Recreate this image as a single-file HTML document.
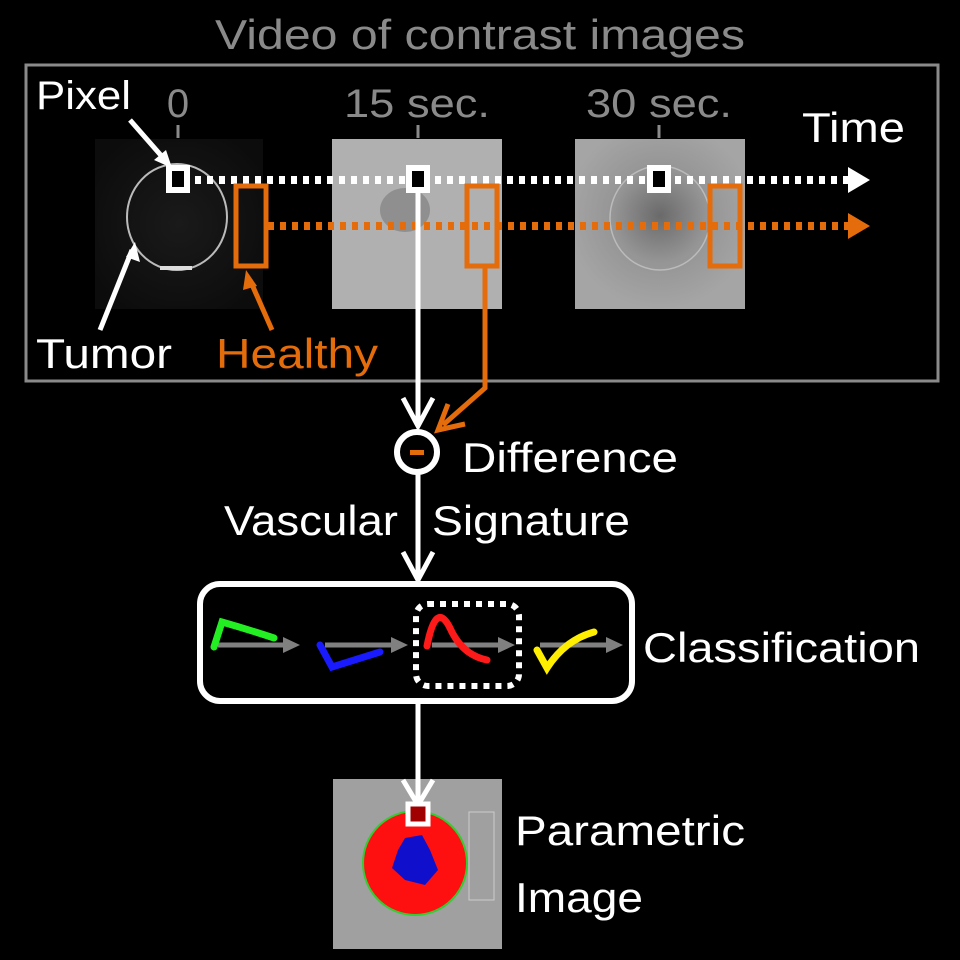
<!DOCTYPE html>
<html><head><meta charset="utf-8"><style>html,body{margin:0;padding:0;background:#000}svg{display:block}text{font-family:"Liberation Sans",sans-serif}</style></head>
<body>
<svg width="960" height="960" viewBox="0 0 960 960" xmlns="http://www.w3.org/2000/svg">
<defs>
<radialGradient id="g1" cx="50%" cy="50%" r="60%"><stop offset="0" stop-color="#1a1a1a"/><stop offset="1" stop-color="#0c0c0c"/></radialGradient>
<radialGradient id="g3" cx="50%" cy="45%" r="55%"><stop offset="0" stop-color="#6a6a6a"/><stop offset="0.5" stop-color="#959595"/><stop offset="1" stop-color="#a5a5a5"/></radialGradient>
</defs>
<text x="215" y="49" font-size="42" fill="#8a8a8a" textLength="530" lengthAdjust="spacingAndGlyphs">Video of contrast images</text>
<rect x="26" y="65" width="912" height="316" fill="none" stroke="#8a8a8a" stroke-width="3"/>
<rect x="95" y="139" width="168" height="170" fill="url(#g1)"/>
<ellipse cx="177" cy="217" rx="50" ry="53" fill="none" stroke="#bbb" stroke-width="2"/>
<rect x="160" y="266" width="32" height="4" fill="#ddd"/>
<rect x="332" y="139" width="170" height="170" fill="#b0b0b0"/>
<ellipse cx="405" cy="210" rx="25" ry="22" fill="#7a7a7a" opacity="0.6"/>
<rect x="575" y="139" width="170" height="170" fill="url(#g3)"/>
<ellipse cx="660" cy="218" rx="50" ry="52" fill="none" stroke="#bbb" stroke-width="1.5"/>
<text x="36" y="109" font-size="40" fill="#fff" textLength="95" lengthAdjust="spacingAndGlyphs">Pixel</text>
<text x="178" y="117" font-size="40" fill="#8a8a8a" text-anchor="middle">0</text>
<text x="344" y="117" font-size="40" fill="#8a8a8a" textLength="146" lengthAdjust="spacingAndGlyphs">15 sec.</text>
<text x="586" y="117" font-size="40" fill="#8a8a8a" textLength="146" lengthAdjust="spacingAndGlyphs">30 sec.</text>
<text x="802" y="142" font-size="42" fill="#fff" textLength="103" lengthAdjust="spacingAndGlyphs">Time</text>
<g stroke="#8a8a8a" stroke-width="3"><line x1="178" y1="125" x2="178" y2="138"/><line x1="418" y1="125" x2="418" y2="138"/><line x1="659" y1="125" x2="659" y2="138"/></g>
<line x1="195" y1="180" x2="848" y2="180" stroke="#fff" stroke-width="8" stroke-dasharray="6 6"/>
<polygon points="848,167 870,180 848,193" fill="#fff"/>
<line x1="268" y1="226" x2="848" y2="226" stroke="#e46c0a" stroke-width="8" stroke-dasharray="6 6"/>
<polygon points="848,213 870,226 848,239" fill="#e46c0a"/>
<g fill="#000" stroke="#fff" stroke-width="6"><rect x="169" y="168" width="18" height="22"/><rect x="409" y="168" width="18" height="22"/><rect x="650" y="168" width="18" height="22"/></g>
<g fill="none" stroke="#e46c0a" stroke-width="5"><rect x="236" y="186" width="30" height="80"/><rect x="467" y="186" width="30" height="80"/><rect x="710" y="186" width="30" height="80"/></g>
<g stroke="#fff" stroke-width="5" fill="none"><line x1="130" y1="120" x2="165" y2="160"/><line x1="100" y1="330" x2="132" y2="250"/></g>
<polygon points="172,168 154,160 166,150" fill="#fff"/>
<polygon points="135,242 140,262 126,257" fill="#fff"/>
<line x1="272" y1="330" x2="250" y2="280" stroke="#e46c0a" stroke-width="5"/>
<polygon points="246,270 257,286 243,290" fill="#e46c0a"/>
<text x="36" y="368" font-size="42" fill="#fff" textLength="136" lengthAdjust="spacingAndGlyphs">Tumor</text>
<text x="216" y="368" font-size="42" fill="#e46c0a" textLength="162" lengthAdjust="spacingAndGlyphs">Healthy</text>
<line x1="418" y1="190" x2="418" y2="426" stroke="#fff" stroke-width="5"/>
<polyline points="403,398 418,426 433,398" fill="none" stroke="#fff" stroke-width="5"/>
<polyline points="485,268 485,388 443,425" fill="none" stroke="#e46c0a" stroke-width="5"/>
<polyline points="448,404 438,430 465,424" fill="none" stroke="#e46c0a" stroke-width="5"/>
<circle cx="417" cy="452" r="20" fill="#000" stroke="#fff" stroke-width="6"/>
<rect x="410" y="450" width="14" height="5" fill="#e46c0a"/>
<text x="462" y="472" font-size="42" fill="#fff" textLength="216" lengthAdjust="spacingAndGlyphs">Difference</text>
<text x="224" y="535" font-size="42" fill="#fff" textLength="174" lengthAdjust="spacingAndGlyphs">Vascular</text>
<text x="432" y="535" font-size="42" fill="#fff" textLength="198" lengthAdjust="spacingAndGlyphs">Signature</text>
<line x1="418" y1="474" x2="418" y2="576" stroke="#fff" stroke-width="5"/>
<polyline points="403,552 418,580 433,552" fill="none" stroke="#fff" stroke-width="5"/>
<rect x="200" y="584" width="432" height="117" rx="20" fill="#000" stroke="#fff" stroke-width="6"/>
<g stroke="#808080" stroke-width="5"><line x1="218" y1="645" x2="285" y2="645"/><line x1="325" y1="645" x2="393" y2="645"/><line x1="432" y1="645" x2="500" y2="645"/><line x1="540" y1="645" x2="608" y2="645"/></g>
<g fill="#808080"><polygon points="283,637 300,645 283,653"/><polygon points="391,637 408,645 391,653"/><polygon points="498,637 515,645 498,653"/><polygon points="606,637 623,645 606,653"/></g>
<rect x="416" y="604" width="103" height="82" rx="12" fill="none" stroke="#fff" stroke-width="6" stroke-dasharray="6 6"/>
<g fill="none" stroke-width="7" stroke-linecap="round">
<path d="M214,647 L222,622 Q250,630 274,638" stroke="#22ee22"/>
<path d="M320,645 L332,667 L380,652" stroke="#1a1aff"/>
<path d="M427,646 Q436,600 450,628 Q462,655 487,660" stroke="#ff1a1a"/>
<path d="M537,650 L547,668 Q565,640 594,632" stroke="#ffee00"/>
</g>
<text x="643" y="662" font-size="42" fill="#fff" textLength="277" lengthAdjust="spacingAndGlyphs">Classification</text>
<rect x="333" y="779" width="169" height="170" fill="#a0a0a0"/>
<rect x="469" y="812" width="25" height="88" fill="none" stroke="#ccc" stroke-width="1"/>
<circle cx="415" cy="863" r="52" fill="#ff1010" stroke="#3c3" stroke-width="2"/>
<path d="M405,838 L422,835 L430,850 L438,870 L425,885 L405,880 L392,868 L398,850Z" fill="#1010cc"/>
<line x1="418" y1="704" x2="418" y2="802" stroke="#fff" stroke-width="5"/>
<polyline points="403,780 418,805 433,780" fill="none" stroke="#fff" stroke-width="5"/>
<rect x="408" y="804" width="20" height="20" fill="#a00000" stroke="#fff" stroke-width="5"/>
<text x="515" y="845" font-size="42" fill="#fff" textLength="230" lengthAdjust="spacingAndGlyphs">Parametric</text>
<text x="515" y="912" font-size="42" fill="#fff" textLength="128" lengthAdjust="spacingAndGlyphs">Image</text>
</svg>
</body></html>
